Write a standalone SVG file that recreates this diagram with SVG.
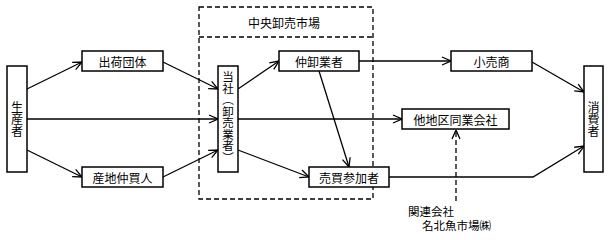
<svg xmlns="http://www.w3.org/2000/svg" width="610" height="240" viewBox="0 0 610 240">
<defs>
<style>
.box{fill:#fff;stroke:#000;stroke-width:1.5}
.t{font-family:"Noto Sans CJK JP","Noto Sans CJK SC",sans-serif;font-size:12px;fill:#000;text-anchor:middle;dominant-baseline:central}
.v{font-family:"Noto Sans CJK JP","Noto Sans CJK SC",sans-serif;font-size:12px;fill:#000;text-anchor:middle;writing-mode:vertical-rl}
.tl{font-family:"Noto Sans CJK JP","Noto Sans CJK SC",sans-serif;font-size:11.5px;fill:#000}
.c{fill:none;stroke:#000;stroke-width:1.3}
.d{fill:none;stroke:#000;stroke-width:1.3;stroke-dasharray:5 3}
</style>
<marker id="ah" viewBox="0 0 10 10" refX="10" refY="5" markerWidth="10" markerHeight="10" markerUnits="userSpaceOnUse" orient="auto">
<polyline points="1,1 10,5 1,9" fill="none" stroke="#000" stroke-width="1.3"/>
</marker>
</defs>
<rect width="610" height="240" fill="#fff"/>
<g id="market">
<rect x="199" y="7" width="174" height="192" class="d"/>
<line x1="199" y1="37" x2="373" y2="37" class="d"/>
<text x="284" y="22" class="t">中央卸売市場</text>
</g>
<g id="connectors">
<line x1="27" y1="89" x2="82" y2="62" class="c" marker-end="url(#ah)"/>
<line x1="27" y1="150" x2="82" y2="177" class="c" marker-end="url(#ah)"/>
<line x1="27" y1="119" x2="218" y2="119" class="c" marker-end="url(#ah)"/>
<line x1="163" y1="62" x2="218" y2="89" class="c" marker-end="url(#ah)"/>
<line x1="163" y1="177" x2="218" y2="150" class="c" marker-end="url(#ah)"/>
<line x1="238" y1="89" x2="279" y2="61" class="c" marker-end="url(#ah)"/>
<line x1="238" y1="150" x2="309" y2="177" class="c" marker-end="url(#ah)"/>
<line x1="238" y1="119" x2="402" y2="119" class="c" marker-end="url(#ah)"/>
<line x1="359" y1="61" x2="451" y2="61" class="c" marker-end="url(#ah)"/>
<line x1="319" y1="71" x2="349" y2="167" class="c" marker-end="url(#ah)"/>
<line x1="532" y1="62" x2="584" y2="92" class="c" marker-end="url(#ah)"/>
<polyline points="389,177 533,177 584,146" class="c" marker-end="url(#ah)"/>
<line x1="456" y1="201" x2="456" y2="130" class="d" marker-end="url(#ah)"/>
</g>
<g id="seisansha">
<rect x="7" y="66" width="20" height="106" class="box"/>
<text x="17" y="119" class="v">生産者</text>
</g>
<g id="shukka">
<rect x="82" y="51" width="81" height="20" class="box"/>
<text x="122.5" y="61" class="t">出荷団体</text>
</g>
<g id="sanchi">
<rect x="82" y="167" width="81" height="20" class="box"/>
<text x="122.5" y="177" class="t">産地仲買人</text>
</g>
<g id="tousha">
<rect x="218" y="66" width="20" height="106" class="box"/>
<text x="228" y="117" class="v" style="font-size:11.5px">当社（卸売業者）</text>
</g>
<g id="nakaoroshi">
<rect x="279" y="51" width="80" height="20" class="box"/>
<text x="319" y="61" class="t">仲卸業者</text>
</g>
<g id="baibai">
<rect x="309" y="167" width="80" height="20" class="box"/>
<text x="349" y="177" class="t">売買参加者</text>
</g>
<g id="kouri">
<rect x="451" y="51" width="81" height="20" class="box"/>
<text x="491.5" y="61" class="t">小売商</text>
</g>
<g id="tachiku">
<rect x="402" y="109" width="107" height="20" class="box"/>
<text x="455.5" y="119" class="t">他地区同業会社</text>
</g>
<g id="shouhisha">
<rect x="584" y="66" width="19" height="106" class="box"/>
<text x="593.5" y="119" class="v">消費者</text>
</g>
<g id="kanren">
<text class="tl"><tspan x="408" y="216">関連会社</tspan><tspan x="422" y="230">名北魚市場㈱</tspan></text>
</g>
</svg>
